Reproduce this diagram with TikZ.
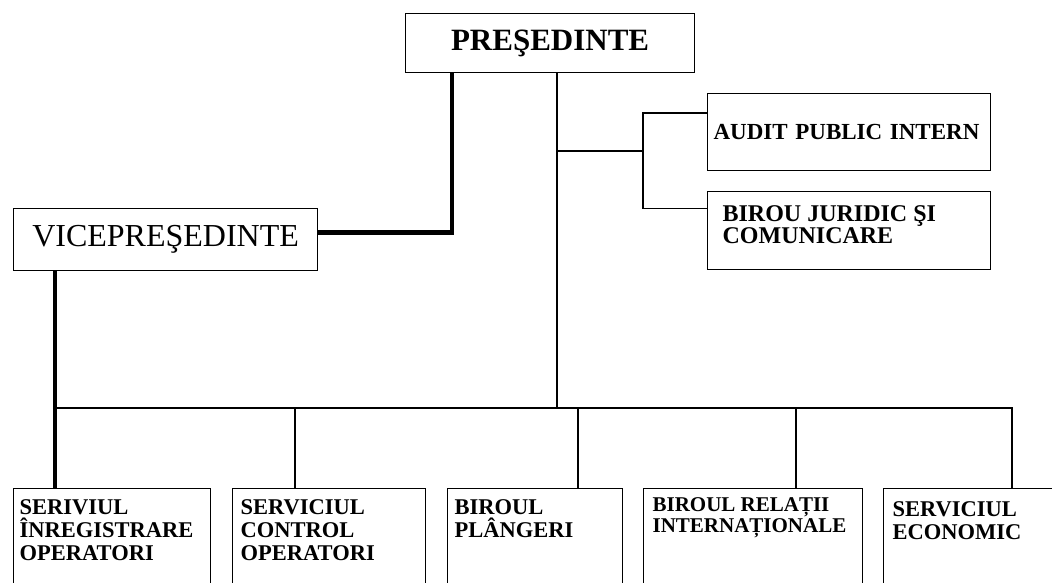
\documentclass[tikz,border=0pt]{standalone}
\usepackage{fontspec}
\setmainfont{Liberation Serif}
\usetikzlibrary{calc}

% text of a box, set from its top left corner
\newcommand{\depttext}[2]{\parbox[t][120pt][t]{#1}{#2}}

\begin{document}
\begin{tikzpicture}[x=1pt,y=-1pt,
	every node/.style={draw, rectangle, line width=1.2pt, inner sep=0pt, anchor=north west},
	link/.style={line width=1.2pt},
	heavylink/.style={line width=4.5pt},
	dept/.style={inner xsep=6pt, inner ysep=11pt, font=\bfseries\fontsize{22.5}{23}\selectfont}]
	\useasboundingbox (0,0) rectangle (1052,583);
	\clip (0,0) rectangle (1052,583);

	%top boxes placed by hand
	\node[minimum width=289pt, minimum height=59pt, font=\bfseries\fontsize{31}{32}\selectfont] (pres) at (405,13) {PREŞEDINTE};
	\node[minimum width=304pt, minimum height=62pt, font=\fontsize{32}{33}\selectfont] (vice) at (13,208) {VICEPREŞEDINTE};
	\node[minimum width=283pt, minimum height=77pt, text width=271pt, align=left, font=\bfseries\fontsize{23}{24}\selectfont] (audit) at (707,93) {AUDIT PUBLIC INTERN};
	\node[dept, inner xsep=15pt, inner ysep=14pt, font=\bfseries\fontsize{24}{22}\selectfont] (jur) at (707,191) {\parbox[t][50pt][t]{253pt}{BIROU JURIDIC ŞI\\COMUNICARE}};

	%% bottom row, cut by the lower edge
	\node[dept] (s1) at (13,488) {\depttext{185pt}{SERIVIUL\\ÎNREGISTRARE\\OPERATORI}};
	\node[dept, inner xsep=8pt] (s2) at (232,488) {\depttext{177pt}{SERVICIUL\\CONTROL\\OPERATORI}};
	\node[dept, inner xsep=7pt] (s3) at (447,488) {\depttext{161pt}{BIROUL\\PLÂNGERI}};
	\node[dept, inner xsep=9pt, inner ysep=9pt, font=\bfseries\fontsize{21}{21}\selectfont] (s4) at (643,488) {\depttext{201pt}{BIROUL RELAȚII\\INTERNAȚIONALE}};
	\node[dept, inner xsep=9pt, inner ysep=13pt] (s5) at (883,488) {\depttext{182pt}{SERVICIUL\\ECONOMIC}};

	\coordinate (busL) at (55,408);
	\coordinate (busR) at (1012,408);
	\coordinate (tap) at (557,151);
	\coordinate (fork) at (643,151);

	% vicepresedinte line
	\draw[heavylink] ([yshift=7pt]vice.east) -| ([xshift=47pt]pres.south west);
	\draw[heavylink] ([xshift=42pt]vice.south west) -- ([xshift=42pt]s1.north west);

	\draw[link] (tap |- pres.south) -- (tap |- busL);
	\draw[link] (busL) -- (busR);
	\draw[link] (tap) -- (fork);
	\draw[link] ([yshift=19pt]audit.west) -| (fork) |- ([yshift=22pt]jur.west);

	%% vertical edges drawn with a loop
	\foreach \n/\dx in {s2/63, s3/131, s4/153, s5/129}{
		\draw[link] ([xshift=\dx pt]\n.north west) |- (busL);
		}
\end{tikzpicture}
\end{document}
